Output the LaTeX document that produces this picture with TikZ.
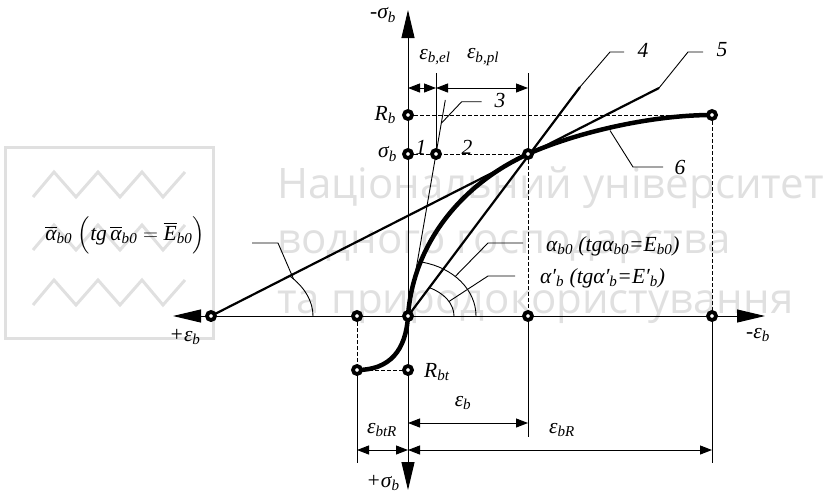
\documentclass[tikz,border=0pt]{standalone}
\usepackage{fontspec}
\usepackage{amsmath}
\setmainfont{Liberation Serif}
\newfontfamily\wmfont{Open Sans}
\usetikzlibrary{arrows.meta}
\newcommand\sbs[1]{\textsubscript{#1}}
\begin{document}
\begin{tikzpicture}[x=1pt,y=-1pt,
  pt/.style={circle,draw,fill=white,line width=3.8pt,minimum size=8pt,inner sep=0pt},
  lbl/.style={font=\fontsize{21.5}{23}\selectfont\itshape,inner sep=0pt},
  fine/.style={line width=0.9pt},
  dsh/.style={line width=0.9pt,dash pattern=on 3.5pt off 2.5pt},
  sec/.style={line width=2.2pt},
  crv/.style={line width=4.5pt},
  dimarr/.style={line width=1pt,{Triangle[length=12pt,width=9pt]}-{Triangle[length=12pt,width=9pt]}},
  axarr/.style={line width=1pt,{Triangle[length=28pt,width=13pt]}-{Triangle[length=28pt,width=13pt]}},
  wm/.style={text=black!12,inner sep=0pt,anchor=base west,font=\wmfont\fontsize{42}{44}\selectfont}
]
\useasboundingbox (0,0) rectangle (830,493);
% ---- watermark
\begin{scope}[draw=black!12,line width=3pt]
\draw (5,147) rectangle (213,338);
\foreach \dy in {0,53,108}
  \draw[line join=miter] (33,197+\dy) -- (54,172+\dy) -- (76,197+\dy) -- (98,172+\dy) -- (120,197+\dy) -- (142,172+\dy) -- (163,197+\dy) -- (185,172+\dy);
\end{scope}
\node[wm] (wm1) at (277,198) {Національний університет};
\node[wm] (wm2) at (277,253) {водного господарства};
\node[wm] (wm3) at (277,313) {та природокористування};
% ---- coordinates
\coordinate (O) at (408,316);
\coordinate (L) at (211,316);
\coordinate (A1) at (357,316);
\coordinate (B1) at (357,370);
\coordinate (Rbt) at (408,370);
\coordinate (P) at (528,316);
\coordinate (Q) at (712,316);
\coordinate (Rb) at (408,115);
\coordinate (Sb) at (408,154);
\coordinate (P1) at (436,154);
\coordinate (M) at (528,154);
\coordinate (E) at (712,115);
\coordinate (xl) at (173,316);
\coordinate (xr) at (765,316);
\coordinate (yt) at (408,10);
\coordinate (yb) at (408,490);
\coordinate (T3) at (445.3,100);
\coordinate (T4) at (580,87);
\coordinate (T5) at (659,88);
% ---- axes
\draw[axarr] (xl) -- (xr);
\draw[axarr] (yb) -- (yt);
% ---- dashed guides
\draw[dsh] (Rb) -- (E);
\draw[dsh] (Sb) -- (M);
\draw[dsh] (M) -- (P);
\draw[dsh] (E) -- (Q);
\draw[dsh] (A1) -- (B1);
\draw[dsh] (B1) -- (Rbt);
% ---- extension lines
\coordinate (e1) at (436,73);
\coordinate (e2) at (528,73);
\coordinate (e3) at (528,437);
\coordinate (e4) at (357,463);
\coordinate (e5) at (712,463);
\draw[fine] (e1) -- (P1);
\draw[fine] (e2) -- (M);
\draw[fine] (P) -- (e3);
\draw[fine] (B1) -- (e4);
\draw[fine] (Q) -- (e5);
% ---- dimension lines
\coordinate (d1) at (408,88);
\coordinate (d2) at (436,88);
\coordinate (d3) at (528,88);
\draw[dimarr] (d1) -- (d2);
\draw[dimarr] (d2) -- (d3);
\coordinate (d4) at (408,423);
\coordinate (d5) at (528,423);
\draw[dimarr] (d4) -- (d5);
\coordinate (d6) at (357,450);
\coordinate (d7) at (408,450);
\coordinate (d8) at (712,450);
\draw[dimarr] (d6) -- (d7);
\draw[dimarr] (d7) -- (d8);
% ---- lines 3,4,5
\draw[fine] (O) -- (T3);
\draw[sec] (O) -- (T4);
\draw[sec] (L) -- (T5);
% ---- curve 6
\draw[crv] (O) .. controls (413,245) and (460,185) .. (M) .. controls (575,133) and (650,115) .. (E);
\draw[crv] (O) .. controls (406,350) and (390,370) .. (B1);
% ---- angle arcs
\draw[fine] ([shift={(68pt,0pt)}]O) arc[start angle=0,end angle=78,x radius=68pt,y radius=55pt];
\draw[fine] ([shift={(46pt,0pt)}]O) arc[start angle=0,end angle=62.7,x radius=46pt,y radius=32pt];
\draw[fine] ([shift={(102pt,0pt)}]L) arc[start angle=0,end angle=39.8,x radius=102pt,y radius=63pt];
% ---- leaders
\coordinate (l3) at (441.3,123.3);
\draw[fine] (l3) -- (461.7,101.7) -- (481.7,101.7);
\draw[fine] (T4) -- (610,52) -- (624,52);
\draw[fine] (T5) -- (688,52) -- (703,52);
\coordinate (l6) at (610,130.5);
\draw[fine] (l6) -- (633,167) -- (663,167);
\coordinate (la) at ([shift={(46:68pt and 55pt)}]O);
\draw[fine] (la) -- (488,243) -- (523,243);
\coordinate (lb) at ([shift={(27:46pt and 32pt)}]O);
\draw[fine] (lb) -- (488,276) -- (515,276);
\coordinate (lc) at ([shift={(36:102pt and 63pt)}]L);
\draw[fine] (lc) -- (278,243) -- (252,243);
% ---- points
\foreach \p in {L,A1,B1,Rbt,O,P,Q,Rb,Sb,P1,M,E}
  \node[pt] (n\p) at (\p) {};
% ---- labels
\node[lbl] (tmsig) at (383,15) {-σ\sbs{b}};
\node[lbl] (tpsig) at (383,483) {+σ\sbs{b}};
\node[lbl] (tmeps) at (758,335) {-ε\sbs{b}};
\node[lbl] (tpeps) at (185,337) {+ε\sbs{b}};
\node[lbl,anchor=east] (tRb) at (396,115) {R\sbs{b}};
\node[lbl,anchor=east] (tSb) at (397,154) {σ\sbs{b}};
\node[lbl,anchor=west] (tRbt) at (424,372) {R\sbs{bt}};
\node[lbl] (t1) at (421,147) {1};
\node[lbl] (t2) at (467,147) {2};
\node[lbl] (t3) at (500,100) {3};
\node[lbl] (t4) at (643,50) {4};
\node[lbl] (t5) at (722,50) {5};
\node[lbl] (t6) at (680,167) {6};
\node[lbl] (tel) at (435,57) {ε\sbs{b,el}};
\node[lbl] (tpl) at (483,57) {ε\sbs{b,pl}};
\node[lbl] (teb) at (463,403) {ε\sbs{b}};
\node[lbl] (tebt) at (382,430) {ε\sbs{btR}};
\node[lbl] (tebr) at (562,430) {ε\sbs{bR}};
\node[lbl,anchor=west] (ta0) at (546,246) {α\sbs{b0} (\textit{tg}α\sbs{b0}=E\sbs{b0})};
\node[lbl,anchor=west] (tab) at (540,278) {α′\sbs{b} (\textit{tg}α′\sbs{b}=E′\sbs{b})};
\node[lbl,anchor=east] (tabar) at (205,235) {\(\overline{\textit{α}}_{\textit{b0}}\;\Bigl(\textit{tg}\,\overline{\textit{α}}_{\textit{b0}} = \overline{\textit{E}}_{\textit{b0}}\Bigr)\)};
\end{tikzpicture}
\end{document}
